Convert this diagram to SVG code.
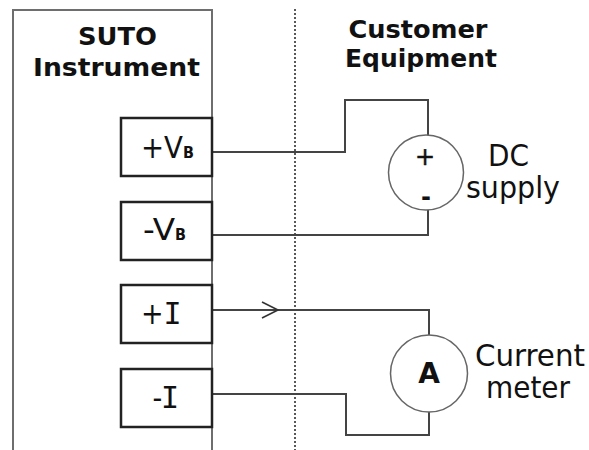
<svg xmlns="http://www.w3.org/2000/svg" width="589" height="450" viewBox="0 0 589 450">
<style>
.bg{fill:#fff}
.frame{fill:none;stroke:#6e6e6e;stroke-width:2}
.term{fill:#fff;stroke:#222;stroke-width:2.5}
.wire{fill:none;stroke:#444;stroke-width:2}
.src{fill:#fff;stroke:#666;stroke-width:1.5}
.div{stroke:#222;stroke-width:1.5;stroke-dasharray:2 2}
.hdr{font-family:"DejaVu Sans",Verdana,sans-serif;font-weight:bold;font-size:25.5px;fill:#111;text-anchor:middle}
.lbl{font-family:"DejaVu Sans Condensed","DejaVu Sans",sans-serif;font-stretch:condensed;font-size:30px;fill:#111}
.sub{font-family:"DejaVu Sans",sans-serif;font-weight:bold;font-size:16px}
.mono{font-family:"DejaVu Sans Mono",monospace}
.sym{font-family:"DejaVu Sans",sans-serif;fill:#111;text-anchor:middle}
</style>
<rect class="bg" x="0" y="0" width="589" height="450"/>
<g id="instrument">
<rect class="frame" x="13" y="10" width="199" height="460"/>
<text class="hdr" x="117.5" y="45" textLength="79" lengthAdjust="spacingAndGlyphs">SUTO</text>
<text class="hdr" x="116.5" y="76" textLength="167" lengthAdjust="spacingAndGlyphs">Instrument</text>
</g>
<g id="divider">
<line class="div" x1="295" y1="9" x2="295" y2="450"/>
</g>
<g id="customer-header">
<text class="hdr" x="418" y="38" textLength="139" lengthAdjust="spacingAndGlyphs">Customer</text>
<text class="hdr" x="421" y="67" textLength="152" lengthAdjust="spacingAndGlyphs">Equipment</text>
</g>
<g id="connectors">
<polyline class="wire" points="212,152 345,152 345,100 428,100 428,135"/>
<polyline class="wire" points="428,210 428,235 212,235"/>
<polyline class="wire" points="212,310 429,310 429,335"/>
<polyline class="wire" points="429,412 429,435 346,435 346,394 212,394"/>
<polyline fill="none" stroke="#333" stroke-width="1.6" points="262,302 278,310 262,318"/>
</g>
<g id="term-pvb">
<rect class="term" x="121" y="118" width="91" height="58"/>
<text class="lbl" x="141" y="158"><tspan textLength="42" lengthAdjust="spacingAndGlyphs">+V</tspan><tspan class="sub" x="183">B</tspan></text>
</g>
<g id="term-nvb">
<rect class="term" x="121" y="202" width="91" height="58"/>
<text class="lbl" x="143" y="240"><tspan textLength="32" lengthAdjust="spacingAndGlyphs">-V</tspan><tspan class="sub" x="175">B</tspan></text>
</g>
<g id="term-pi">
<rect class="term" x="121" y="285" width="91" height="58"/>
<text class="lbl" x="141" y="324">+<tspan class="mono" x="163.5">I</tspan></text>
</g>
<g id="term-ni">
<rect class="term" x="121" y="369" width="91" height="58"/>
<text class="lbl" x="152.5" y="408">-<tspan class="mono" x="161">I</tspan></text>
</g>
<g id="dc-supply">
<circle class="src" cx="426" cy="172.5" r="37.5"/>
<text class="sym" x="425" y="164.5" font-size="24" stroke="#111" stroke-width="0.5">+</text>
<text class="sym" x="426" y="205" font-size="24" font-weight="bold">-</text>
<text class="lbl" x="488" y="166" font-size="28" textLength="41" lengthAdjust="spacingAndGlyphs">DC</text>
<text class="lbl" x="466" y="198" textLength="94" lengthAdjust="spacingAndGlyphs">supply</text>
</g>
<g id="current-meter">
<circle class="src" cx="429" cy="373.5" r="38.5"/>
<text class="sym" x="429" y="383" font-size="28" font-weight="bold">A</text>
<text class="lbl" x="475" y="366" textLength="110" lengthAdjust="spacingAndGlyphs">Current</text>
<text class="lbl" x="486" y="398" textLength="84" lengthAdjust="spacingAndGlyphs">meter</text>
</g>
</svg>
